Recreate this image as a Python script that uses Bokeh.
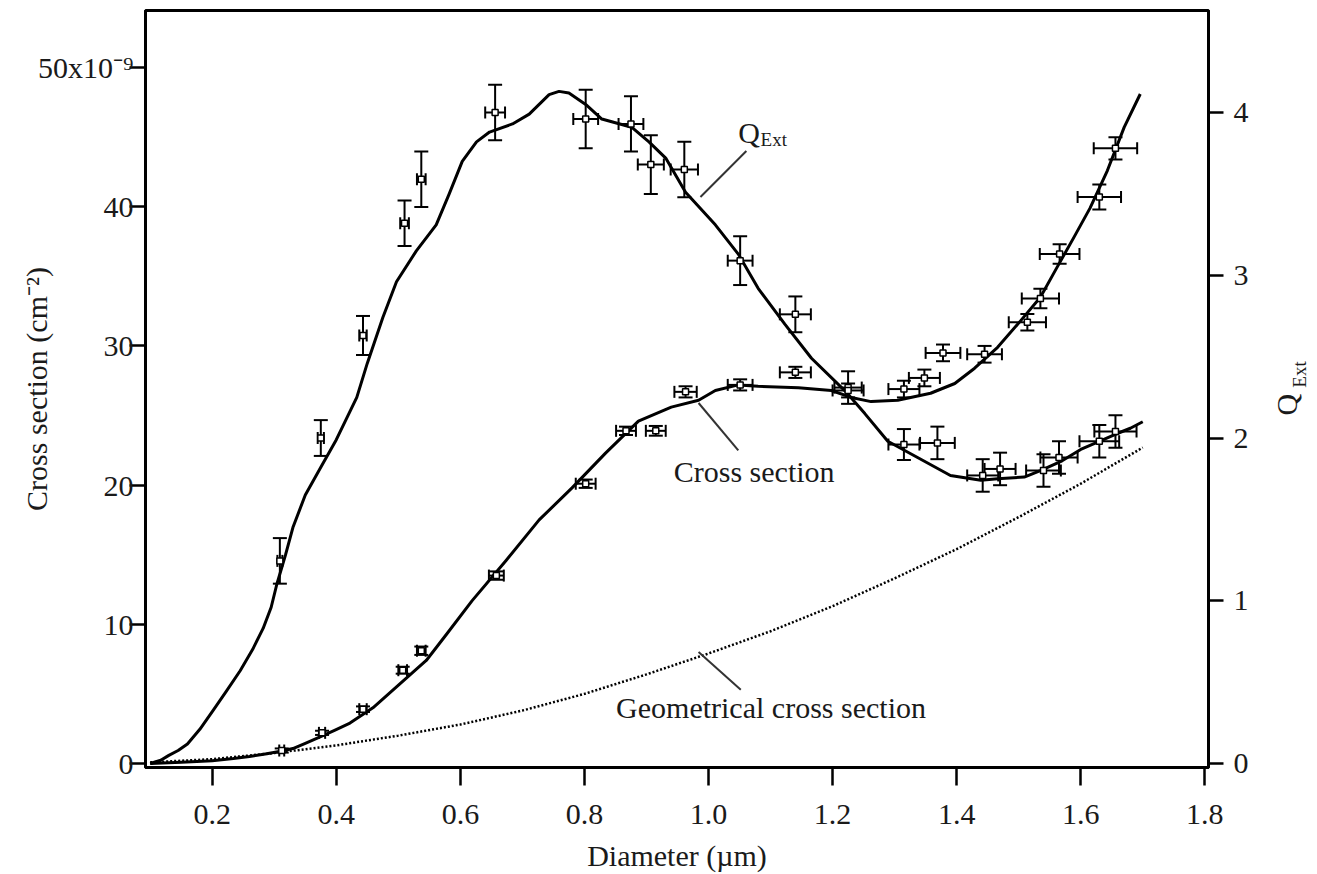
import numpy as np
from bokeh.plotting import figure
from bokeh.models import (Range1d, LinearAxis, Whisker, TeeHead, ColumnDataSource,
                          Label, FixedTicker, NumeralTickFormatter)
from bokeh.embed import file_html
from bokeh.resources import INLINE

FONT = "Liberation Serif"
TXT = "#1a1a1a"

# ---- data ----
# Q_Ext model curve (right axis)
q_curve_x = [0.100, 0.117, 0.130, 0.145, 0.160, 0.180, 0.202, 0.222, 0.245, 0.265, 0.282,
             0.295, 0.304, 0.318, 0.330, 0.350, 0.375, 0.400,
             0.433, 0.450, 0.475, 0.497, 0.529, 0.561, 0.582, 0.603, 0.626, 0.647, 0.684,
             0.711, 0.743, 0.759, 0.775, 0.802, 0.828, 0.876, 0.904, 0.931, 0.963, 1.011,
             1.048, 1.080, 1.123, 1.166, 1.220, 1.252, 1.289, 1.337, 1.390, 1.439, 1.466,
             1.509, 1.535, 1.570, 1.600, 1.630, 1.654, 1.680, 1.700]
q_curve_y = [0.00, 0.02, 0.05, 0.08, 0.12, 0.21, 0.33, 0.44, 0.57, 0.70, 0.83,
             0.96, 1.10, 1.28, 1.45, 1.65, 1.82, 1.99,
             2.25, 2.46, 2.74, 2.96, 3.15, 3.31, 3.50, 3.70, 3.82, 3.88, 3.93,
             3.99, 4.11, 4.13, 4.12, 4.05, 3.96, 3.91, 3.82, 3.72, 3.51, 3.31,
             3.13, 2.92, 2.70, 2.49, 2.29, 2.15, 1.98, 1.88, 1.77, 1.74, 1.75,
             1.76, 1.80, 1.86, 1.93, 1.98, 2.02, 2.06, 2.10]

# Cross-section model curve (left axis, units 1e-9 cm^2)
cs_curve_x = [0.100, 0.150, 0.200, 0.234, 0.260, 0.288, 0.310, 0.330, 0.350, 0.373, 0.398,
              0.422, 0.459, 0.502, 0.545, 0.578, 0.619,
              0.674, 0.727, 0.780, 0.834, 0.887, 0.940, 0.984, 1.011, 1.048, 1.080, 1.145,
              1.198, 1.230, 1.262, 1.305, 1.358, 1.397, 1.429, 1.466, 1.503, 1.535, 1.560,
              1.589, 1.615, 1.643, 1.670, 1.696]
cs_curve_y = [0.0, 0.08, 0.20, 0.35, 0.50, 0.70, 0.88, 1.07, 1.45, 1.90, 2.40,
              2.90, 4.00, 5.70, 7.40, 9.30, 11.7,
              14.6, 17.5, 19.8, 22.3, 24.6, 25.6, 26.1, 26.8, 27.2, 27.1, 27.0,
              26.8, 26.3, 26.0, 26.1, 26.6, 27.3, 28.4, 29.9, 31.8, 33.5, 35.5,
              37.8, 39.9, 42.6, 45.7, 48.1]

# Geometrical cross section (dotted, left axis)
geo_x = [0.1, 0.2, 0.3, 0.4, 0.5, 0.6, 0.7, 0.8, 0.9, 1.0, 1.1, 1.2, 1.3, 1.4, 1.5, 1.6, 1.7]
geo_y = [0.08, 0.31, 0.75, 1.3, 2.0, 2.8, 3.8, 5.0, 6.4, 7.9, 9.5, 11.3, 13.3, 15.4, 17.7, 20.1, 22.7]

# Measured Q_Ext points
q_pts_x = [0.309, 0.375, 0.443, 0.510, 0.537, 0.656, 0.802, 0.875, 0.907, 0.961, 1.051,
           1.140, 1.225, 1.315, 1.369, 1.442, 1.470, 1.540, 1.565, 1.630, 1.656]
q_pts_y = [1.245, 2.00, 2.63, 3.32, 3.59, 4.00, 3.96, 3.93, 3.68, 3.65, 3.09,
           2.76, 2.31, 1.96, 1.97, 1.77, 1.81, 1.80, 1.88, 1.98, 2.04]
q_pts_dy = [0.14, 0.11, 0.12, 0.14, 0.17, 0.17, 0.18, 0.17, 0.18, 0.17, 0.15,
            0.11, 0.10, 0.095, 0.10, 0.10, 0.10, 0.10, 0.10, 0.10, 0.10]
q_pts_dx = [0.004, 0.005, 0.006, 0.007, 0.007, 0.016, 0.020, 0.020, 0.021, 0.022, 0.020,
            0.025, 0.022, 0.025, 0.028, 0.025, 0.025, 0.028, 0.030, 0.032, 0.034]

# Measured cross-section points
cs_pts_x = [0.312, 0.377, 0.443, 0.507, 0.537, 0.658, 0.802, 0.867, 0.915, 0.963, 1.051,
            1.140, 1.225, 1.315, 1.348, 1.378, 1.445, 1.514, 1.535, 1.566, 1.630, 1.656]
cs_pts_y = [0.93, 2.2, 3.9, 6.7, 8.1, 13.5, 20.1, 23.9, 23.9, 26.7, 27.2,
            28.1, 26.8, 26.9, 27.7, 29.5, 29.4, 31.7, 33.4, 36.6, 40.7, 44.2]
cs_pts_dy = [0.15, 0.15, 0.2, 0.25, 0.3, 0.3, 0.3, 0.3, 0.35, 0.4, 0.4,
             0.4, 0.5, 0.6, 0.6, 0.6, 0.6, 0.6, 0.7, 0.7, 0.9, 0.8]
cs_pts_dx = [0.004, 0.005, 0.006, 0.007, 0.007, 0.012, 0.016, 0.016, 0.016, 0.018, 0.020,
             0.025, 0.025, 0.025, 0.025, 0.028, 0.028, 0.030, 0.030, 0.032, 0.035, 0.035]

x_ticks = [0.2, 0.4, 0.6, 0.8, 1.0, 1.2, 1.4, 1.6, 1.8]
left_ticks = [0, 10, 20, 30, 40, 50]
right_ticks = [0, 1, 2, 3, 4]

# ---- figure ----
p = figure(frame_width=1063, frame_height=757, output_backend="svg", toolbar_location=None,
           x_range=Range1d(0.0924, 1.806), y_range=Range1d(-0.29, 54.1),
           min_border_left=145, min_border_right=109, min_border_top=10, min_border_bottom=107,
           background_fill_color="white", border_fill_color="white")
p.grid.visible = False
p.outline_line_color = "black"
p.outline_line_width = 3
p.extra_y_ranges = {"q": Range1d(-0.0246, 4.627)}

def style_axis(ax, tick_out):
    ax.axis_line_width = 3
    ax.axis_line_color = "black"
    ax.major_tick_in = 0
    ax.major_tick_out = tick_out
    ax.major_tick_line_width = 2.5
    ax.minor_tick_line_color = None
    ax.major_label_text_font = FONT
    ax.major_label_text_font_size = "30px"
    ax.major_label_text_color = TXT
    ax.axis_label_text_font = FONT
    ax.axis_label_text_font_size = "30px"
    ax.axis_label_text_font_style = "normal"
    ax.axis_label_text_color = TXT

xa = p.xaxis[0]
style_axis(xa, 18)
xa.ticker = FixedTicker(ticks=x_ticks)
xa.formatter = NumeralTickFormatter(format="0.0")
xa.major_label_standoff = 19
xa.axis_label = "Diameter (µm)"
xa.axis_label_standoff = 12

ya = p.yaxis[0]
style_axis(ya, 16)
ya.ticker = FixedTicker(ticks=left_ticks)
ya.major_label_overrides = {50: "50x10⁻⁹"}
ya.major_label_standoff = -4
ya.axis_label = "Cross section (cm⁻²)"
ya.axis_label_standoff = -18

ra = LinearAxis(y_range_name="q", ticker=FixedTicker(ticks=right_ticks))
style_axis(ra, 15)
ra.major_label_standoff = 10
p.add_layout(ra, "right")

# right-hand title "Q" with subscript "Ext", drawn as rotated labels of two bare axes
def title_axis(pos, text, size, standoff):
    ax = LinearAxis(ticker=FixedTicker(ticks=[pos]), major_label_overrides={pos: text})
    ax.axis_line_color = None
    ax.major_tick_line_color = None
    ax.minor_tick_line_color = None
    ax.major_tick_in = 0
    ax.major_tick_out = 0
    ax.major_label_orientation = np.pi / 2
    ax.major_label_standoff = standoff
    ax.major_label_text_font = FONT
    ax.major_label_text_font_size = size
    ax.major_label_text_color = TXT
    p.add_layout(ax, "right")

title_axis(25, "Q", "30px", 35)
title_axis(27, "Ext", "19px", -23)

# curves
p.line(q_curve_x, q_curve_y, y_range_name="q", line_color="black", line_width=3, line_join="round")
p.line(cs_curve_x, cs_curve_y, line_color="black", line_width=3, line_join="round")
p.line(geo_x, geo_y, line_color="black", line_width=2.5, line_dash="2 2")

# error bars
def add_err(xs, ys, dxs, dys, rng=None):
    src = ColumnDataSource(dict(x=xs, y=ys,
                                yl=[y - d for y, d in zip(ys, dys)], yu=[y + d for y, d in zip(ys, dys)],
                                xl=[x - d for x, d in zip(xs, dxs)], xu=[x + d for x, d in zip(xs, dxs)]))
    kw = {} if rng is None else {"y_range_name": rng}
    wv = Whisker(source=src, base="x", lower="yl", upper="yu", dimension="height",
                 line_width=2, line_color="black",
                 lower_head=TeeHead(size=14, line_width=2), upper_head=TeeHead(size=14, line_width=2), **kw)
    wh = Whisker(source=src, base="y", lower="xl", upper="xu", dimension="width",
                 line_width=2, line_color="black",
                 lower_head=TeeHead(size=12, line_width=2), upper_head=TeeHead(size=12, line_width=2), **kw)
    p.add_layout(wv)
    p.add_layout(wh)
    p.scatter("x", "y", source=src, marker="square", size=6, fill_color="white",
              line_color="black", line_width=1.5, **kw)

add_err(q_pts_x, q_pts_y, q_pts_dx, q_pts_dy, "q")
add_err(cs_pts_x, cs_pts_y, cs_pts_dx, cs_pts_dy)

# annotation labels and leader lines
p.segment(x0=[0.987], y0=[40.7], x1=[1.061], y1=[44.0], line_color="#333333", line_width=2)
p.segment(x0=[0.984], y0=[25.9], x1=[1.048], y1=[22.5], line_color="#333333", line_width=2)
p.segment(x0=[0.984], y0=[8.0], x1=[1.052], y1=[5.3], line_color="#333333", line_width=2)

def lab(x, y, text, size="30px", **kw):
    l = Label(x=x, y=y, text=text, text_font=FONT, text_font_size=size, text_color=TXT, **kw)
    p.add_layout(l)

lab(1.048, 45.3, "Q", text_baseline="alphabetic")
lab(1.084, 44.8, "Ext", size="19px", text_baseline="alphabetic")
lab(0.944, 21.0, "Cross section", text_baseline="alphabetic")
lab(0.851, 4.0, "Geometrical cross section", text_baseline="alphabetic")

open("out.html", "w").write(file_html(p, INLINE))
